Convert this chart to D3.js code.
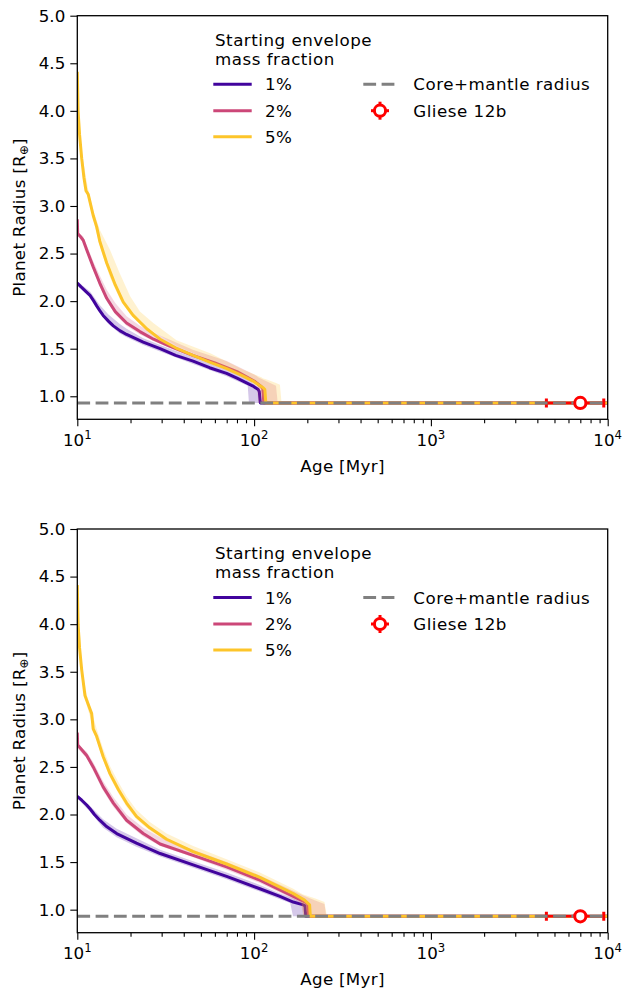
<!DOCTYPE html>
<html><head><meta charset="utf-8">
<script src="https://cdn.jsdelivr.net/npm/d3@7"></script>
<style>body{margin:0;background:#fff}svg{display:block}text{font-family:"DejaVu Sans",sans-serif}</style>
</head><body>
<script>
// ---------- data ----------
const seriesLabels = ["1%", "2%", "5%"];
const seriesColors = ["#41049d", "#cc4778", "#fdc52a"];
const xTickExps = [1, 2, 3, 4];
const yTicks = [1.0, 1.5, 2.0, 2.5, 3.0, 3.5, 4.0, 4.5, 5.0];
const coreRadius = 0.93;
const glieseAge = 7000, glieseAgeLo = 4500, glieseAgeHi = 9500, glieseR = 0.93;

// top panel
const topAge1 = [10, 10.5, 11.2, 11.8, 12.4, 12.87, 13.4, 14.0, 15.0, 16.0, 17.4, 19.0, 23.6, 29.4, 36, 45.2, 56, 69.9, 80, 90.6, 98, 105.5, 107, 108.5, 10000];
const topR1   = [2.19, 2.15, 2.10, 2.06, 2.00, 1.95, 1.90, 1.85, 1.79, 1.74, 1.69, 1.65, 1.57, 1.50, 1.43, 1.37, 1.30, 1.24, 1.19, 1.14, 1.11, 1.07, 1.05, 0.93, 0.93];
const topAge2 = [10, 10.05, 10.4, 10.8, 11.3, 12.3, 13.4, 14.67, 16.4, 19, 22.6, 27, 33, 45, 60, 80, 100, 110, 112, 113.5, 10000];
const topR2   = [2.86, 2.71, 2.68, 2.64, 2.54, 2.36, 2.19, 2.03, 1.89, 1.77, 1.68, 1.60, 1.53, 1.43, 1.35, 1.26, 1.16, 1.10, 1.08, 0.93, 0.93];
const topAge5 = [10, 10.1, 10.3, 10.59, 10.9, 11.2, 11.54, 12.3, 12.87, 13.4, 14.67, 16.4, 18.2, 20.7, 24.7, 29.4, 36, 45.2, 56, 69.9, 85, 98.6, 112.5, 115, 116.5, 10000];
const topR5   = [4.41, 4.0, 3.75, 3.50, 3.30, 3.16, 3.12, 2.90, 2.78, 2.63, 2.40, 2.17, 1.99, 1.85, 1.71, 1.60, 1.51, 1.43, 1.36, 1.29, 1.22, 1.16, 1.09, 1.07, 0.93, 0.93];
const topBandAge1 = [10, 11.8, 13.4, 15, 17.4, 19, 23.6, 29.4, 45.2, 69.9, 85, 92, 93.5, 100, 106, 108];
const topLo1      = [2.17, 2.04, 1.88, 1.76, 1.66, 1.62, 1.54, 1.47, 1.34, 1.21, 1.14, 1.11, 0.93, 0.93, 0.93, 0.93];
const topHi1      = [2.21, 2.10, 1.96, 1.86, 1.76, 1.71, 1.61, 1.54, 1.41, 1.28, 1.21, 1.18, 1.17, 1.13, 1.09, 0.93];
const topBandAge2 = [10, 10.8, 12.3, 13.4, 14.67, 16.4, 19, 22.6, 29.4, 45, 70, 100, 104, 105.5, 120, 133, 136];
const topLo2      = [2.69, 2.62, 2.33, 2.15, 2.00, 1.86, 1.74, 1.65, 1.55, 1.41, 1.29, 1.14, 1.12, 0.93, 0.93, 0.93, 0.93];
const topHi2      = [2.73, 2.68, 2.42, 2.27, 2.12, 1.98, 1.84, 1.74, 1.64, 1.49, 1.37, 1.23, 1.21, 1.20, 1.15, 1.11, 0.93];
const topBandAge5 = [10, 10.5, 11.5, 12.3, 13.4, 15.3, 17.4, 19.9, 22.6, 26.9, 36.4, 56.9, 86.9, 110, 112, 120, 133, 140, 143];
const topLo5      = [4.40, 3.55, 3.08, 2.86, 2.58, 2.25, 2.02, 1.86, 1.77, 1.68, 1.53, 1.37, 1.21, 1.07, 0.93, 0.93, 0.93, 0.93, 0.93];
const topHi5      = [4.42, 3.60, 3.18, 2.96, 2.75, 2.54, 2.29, 2.05, 1.89, 1.77, 1.59, 1.45, 1.28, 1.20, 1.19, 1.17, 1.14, 1.12, 0.93];

// bottom panel
const botAge1 = [10, 10.6, 11.3, 11.8, 12.5, 13.4, 14.5, 16.7, 19, 21.6, 29.4, 45.2, 69.9, 107.8, 140, 166.5, 190, 194, 196, 10000];
const botR1   = [2.19, 2.15, 2.10, 2.06, 2.00, 1.94, 1.88, 1.80, 1.75, 1.70, 1.59, 1.47, 1.35, 1.22, 1.14, 1.08, 1.05, 1.04, 0.93, 0.93];
const botAge2 = [10, 10.05, 10.6, 11.3, 12.3, 14.0, 16.0, 19, 23.6, 29.4, 45.2, 69.9, 107.8, 166.5, 195, 201, 203, 10000];
const botR2   = [2.86, 2.73, 2.68, 2.62, 2.50, 2.29, 2.12, 1.94, 1.80, 1.69, 1.57, 1.45, 1.31, 1.14, 1.08, 1.06, 0.93, 0.93];
const botAge5 = [10, 10.1, 10.3, 10.59, 11.05, 11.3, 12.06, 12.3, 12.87, 14.0, 15.3, 17.1, 19.0, 21.6, 25.7, 32.0, 45.2, 69.9, 107.8, 166.5, 193, 206, 208, 10000];
const botR5   = [4.41, 4.0, 3.75, 3.52, 3.25, 3.20, 3.06, 2.90, 2.82, 2.61, 2.43, 2.26, 2.12, 1.98, 1.86, 1.74, 1.61, 1.48, 1.34, 1.17, 1.10, 1.05, 0.93, 0.93];
const botBandAge1 = [10, 11.8, 14, 16.7, 21.6, 29.4, 45.2, 69.9, 107.8, 140, 160, 166, 180, 190, 193];
const botLo1      = [2.17, 2.03, 1.86, 1.76, 1.66, 1.56, 1.44, 1.32, 1.19, 1.11, 1.07, 0.93, 0.93, 0.93, 0.93];
const botHi1      = [2.21, 2.09, 1.95, 1.85, 1.75, 1.63, 1.51, 1.39, 1.26, 1.17, 1.13, 1.12, 1.09, 1.07, 0.93];
const botBandAge2 = [10, 11.3, 12.3, 14, 16, 19, 23.6, 29.4, 45.2, 69.9, 107.8, 166.5, 185, 190, 220, 250, 256];
const botLo2      = [2.70, 2.59, 2.46, 2.25, 2.08, 1.91, 1.77, 1.67, 1.55, 1.42, 1.28, 1.11, 1.06, 0.93, 0.93, 0.93, 0.93];
const botHi2      = [2.74, 2.66, 2.55, 2.35, 2.18, 2.00, 1.86, 1.76, 1.63, 1.50, 1.36, 1.20, 1.16, 1.15, 1.10, 1.06, 0.93];
const botBandAge5 = [10, 10.59, 11.3, 12.87, 14, 15.3, 17.1, 19, 21.6, 25.7, 32, 45.2, 69.9, 107.8, 166.5, 185, 190, 220, 250, 258];
const botLo5      = [4.40, 3.48, 3.15, 2.78, 2.57, 2.39, 2.22, 2.08, 1.95, 1.83, 1.72, 1.59, 1.46, 1.32, 1.14, 1.09, 0.93, 0.93, 0.93, 0.93];
const botHi5      = [4.42, 3.56, 3.26, 2.90, 2.69, 2.51, 2.34, 2.19, 2.05, 1.92, 1.80, 1.67, 1.53, 1.39, 1.22, 1.17, 1.16, 1.12, 1.08, 0.93];

// ---------- drawing ----------
const W = 624, H = 989;
const FS = 16.7;
const LS = 0.5; // letter spacing for legend text
const svg = d3.select("body").append("svg").attr("width", W).attr("height", H);

const panels = [
  { top: 15.7, bottom: 419.3,
    lines: [[topAge1, topR1], [topAge2, topR2], [topAge5, topR5]],
    bands: [[topBandAge1, topLo1, topHi1], [topBandAge2, topLo2, topHi2], [topBandAge5, topLo5, topHi5]] },
  { top: 529, bottom: 932.7,
    lines: [[botAge1, botR1], [botAge2, botR2], [botAge5, botR5]],
    bands: [[botBandAge1, botLo1, botHi1], [botBandAge2, botLo2, botHi2], [botBandAge5, botLo5, botHi5]] }
];
const L = 77.3, R = 607.7;

panels.forEach((p, pi) => {
  const x = d3.scaleLog().domain([10, 10000]).range([L, R]);
  const y = d3.scaleLinear().domain([0.758, 5.0]).range([p.bottom, p.top]);
  const g = svg.append("g");
  const cid = "clip" + pi;
  g.append("clipPath").attr("id", cid).append("rect")
    .attr("x", L).attr("y", p.top).attr("width", R - L).attr("height", p.bottom - p.top);
  const plot = g.append("g").attr("clip-path", `url(#${cid})`);

  const lineGen = d3.line().x(d => x(d[0])).y(d => y(d[1]));
  const areaGen = d3.area().x(d => x(d[0])).y0(d => y(d[1])).y1(d => y(d[2]));

  p.lines.forEach((ln, i) => {
    const b = p.bands[i];
    const bd = b[0].map((a, k) => [a, b[1][k], b[2][k]]);
    plot.append("path").datum(bd).attr("d", areaGen)
      .attr("fill", seriesColors[i]).attr("fill-opacity", 0.22).attr("stroke", "none");
    const ld = ln[0].map((a, k) => [a, ln[1][k]]);
    plot.append("path").datum(ld).attr("d", lineGen)
      .attr("fill", "none").attr("stroke", seriesColors[i]).attr("stroke-width", 3)
      .attr("stroke-linejoin", "round");
  });

  // Gliese error bar (under dashed line)
  const gy = y(glieseR);
  plot.append("line").attr("x1", x(glieseAgeLo)).attr("x2", x(glieseAgeHi))
    .attr("y1", gy).attr("y2", gy).attr("stroke", "#ff0000").attr("stroke-width", 2.5);
  [glieseAgeLo, glieseAgeHi].forEach(a => {
    plot.append("line").attr("x1", x(a)).attr("x2", x(a)).attr("y1", gy - 4.5).attr("y2", gy + 4.5)
      .attr("stroke", "#ff0000").attr("stroke-width", 3);
  });

  // core+mantle dashed line
  plot.append("line").attr("x1", L).attr("x2", R).attr("y1", y(coreRadius)).attr("y2", y(coreRadius))
    .attr("stroke", "#808080").attr("stroke-width", 3).attr("stroke-dasharray", "12.8,5.5");

  // Gliese marker
  plot.append("circle").attr("cx", x(glieseAge)).attr("cy", gy).attr("r", 5.6)
    .attr("fill", "#fff").attr("stroke", "#ff0000").attr("stroke-width", 3);

  // axes
  const minor = [];
  for (let e = 1; e < 4; e++) for (let m = 2; m <= 9; m++) minor.push(m * Math.pow(10, e));
  const xa = g.append("g").attr("transform", `translate(0,${p.bottom})`)
    .call(d3.axisBottom(x).tickValues(xTickExps.map(e => Math.pow(10, e))).tickSize(7).tickFormat(""));
  const xm = g.append("g").attr("transform", `translate(0,${p.bottom})`)
    .call(d3.axisBottom(x).tickValues(minor).tickSize(4).tickFormat(""));
  [xa, xm].forEach(a => { a.select(".domain").remove(); a.selectAll("line").attr("stroke", "#000").attr("stroke-width", 1.1); });

  xTickExps.forEach(e => {
    const t = g.append("text").attr("x", x(Math.pow(10, e))).attr("y", p.bottom + 26.5)
      .attr("text-anchor", "middle").attr("font-size", FS).attr("fill", "#000");
    t.append("tspan").text("10");
    t.append("tspan").attr("font-size", FS * 0.7).attr("dy", -7).text(String(e));
  });

  const ya = g.append("g").attr("transform", `translate(${L},0)`)
    .call(d3.axisLeft(y).tickValues(yTicks).tickSize(7).tickPadding(5).tickFormat(d3.format(".1f")));
  ya.select(".domain").remove();
  ya.selectAll("line").attr("stroke", "#000").attr("stroke-width", 1.1);
  ya.selectAll("text").attr("font-size", FS).attr("font-family", "DejaVu Sans").attr("fill", "#000");

  g.append("rect").attr("x", L).attr("y", p.top).attr("width", R - L).attr("height", p.bottom - p.top)
    .attr("fill", "none").attr("stroke", "#000").attr("stroke-width", 1.3);

  // axis labels
  g.append("text").attr("x", (L + R) / 2).attr("y", p.bottom + 52.4).attr("text-anchor", "middle")
    .attr("font-size", FS).attr("letter-spacing", 0.3).text("Age [Myr]");
  const yl = g.append("text").attr("transform", `translate(25.2,${(p.top + p.bottom) / 2}) rotate(-90)`)
    .attr("text-anchor", "middle").attr("font-size", FS).attr("letter-spacing", 0.3);
  yl.append("tspan").text("Planet Radius [R");
  yl.append("tspan").attr("font-size", FS * 0.7).attr("dy", 3).text("\u2295");
  yl.append("tspan").attr("dy", -3).text("]");

  // legend
  const T = p.top;
  g.append("text").attr("x", 215).attr("y", T + 29.9).attr("font-size", FS).attr("letter-spacing", LS).text("Starting envelope");
  g.append("text").attr("x", 215).attr("y", T + 48.9).attr("font-size", FS).attr("letter-spacing", LS).text("mass fraction");
  const ly = [68.6, 95, 121];
  seriesLabels.forEach((lab, i) => {
    g.append("line").attr("x1", 213.3).attr("x2", 251.7).attr("y1", T + ly[i]).attr("y2", T + ly[i])
      .attr("stroke", seriesColors[i]).attr("stroke-width", 3);
    g.append("text").attr("x", 265).attr("y", T + ly[i] + 6).attr("font-size", FS).attr("letter-spacing", LS).text(lab);
  });
  g.append("line").attr("x1", 363.3).attr("x2", 395).attr("y1", T + ly[0]).attr("y2", T + ly[0])
    .attr("stroke", "#808080").attr("stroke-width", 3).attr("stroke-dasharray", "12.8,5.5");
  g.append("text").attr("x", 413.3).attr("y", T + ly[0] + 6).attr("font-size", FS).attr("letter-spacing", LS).text("Core+mantle radius");
  const mx = 380, my = T + ly[1];
  g.append("line").attr("x1", mx - 9).attr("x2", mx + 9).attr("y1", my).attr("y2", my).attr("stroke", "#ff0000").attr("stroke-width", 3);
  g.append("line").attr("x1", mx).attr("x2", mx).attr("y1", my - 9).attr("y2", my + 9).attr("stroke", "#ff0000").attr("stroke-width", 3);
  g.append("circle").attr("cx", mx).attr("cy", my).attr("r", 5.6).attr("fill", "#fff").attr("stroke", "#ff0000").attr("stroke-width", 3);
  g.append("text").attr("x", 413.3).attr("y", my + 6).attr("font-size", FS).attr("letter-spacing", LS).text("Gliese 12b");
});
</script>
</body></html>
